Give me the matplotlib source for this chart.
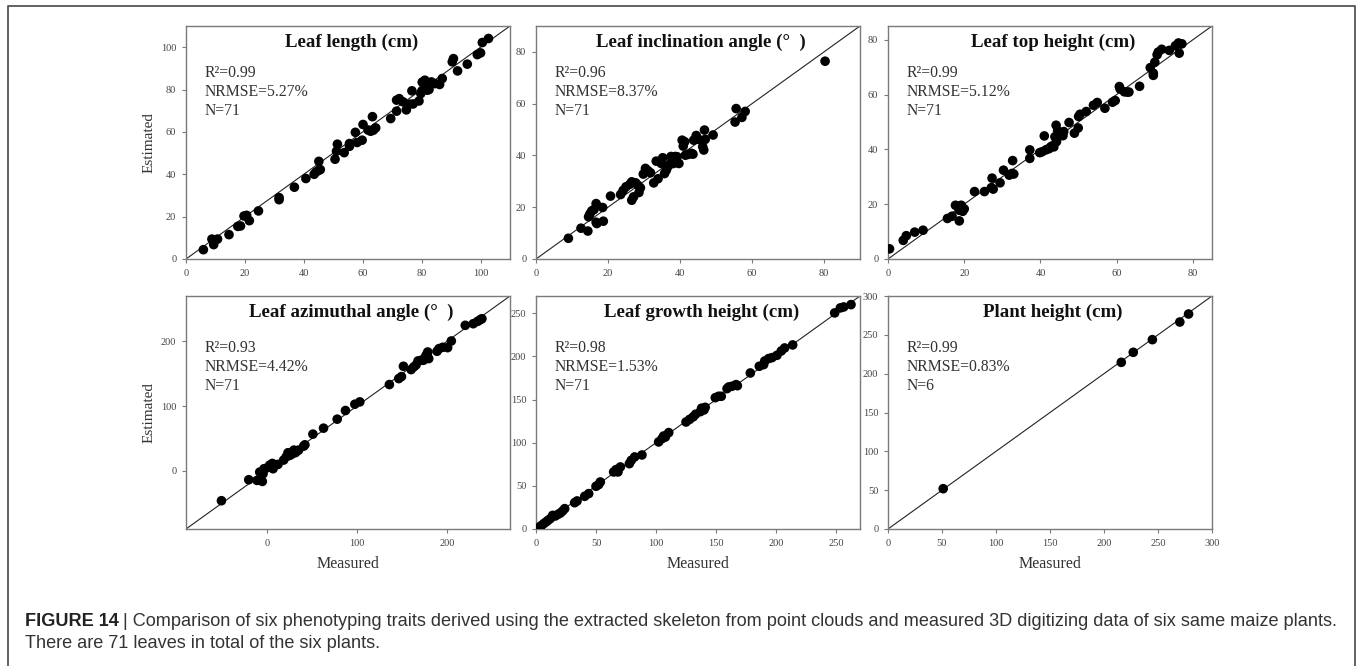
import matplotlib
matplotlib.use("Agg")
import matplotlib.pyplot as plt
from matplotlib.lines import Line2D

plt.rcParams["font.family"] = ["Liberation Serif", "DejaVu Serif"]

# ─── data (measured, estimated) ─────────────────────────────────────────
length_meas = [5.9, 8.8, 9.4, 10.7, 14.6, 17.6, 18.5, 19.7, 20.6, 21.5, 24.6, 31.6, 31.6,
               36.8, 40.7, 43.5, 44.2, 45.1, 45.1, 45.6, 50.6, 51.1, 51.4, 53.7, 55.5, 55.5,
               57.5, 58.1, 59.8, 60.1, 61.8, 62.7, 63.3, 63.6, 64.4, 69.5, 71.5, 71.5, 72.4,
               73.7, 74.8, 75.9, 76.7, 77.1, 79.1, 79.7, 80.1, 80.2, 80.7, 81.1, 81.9, 82.5,
               83.3, 84.5, 86.1, 87.0, 90.4, 90.8, 92.2, 95.5, 98.9, 100.0, 100.6, 102.7]
length_est = [4.4, 9.4, 6.8, 9.4, 11.5, 15.4, 15.6, 20.3, 20.6, 18.1, 22.7, 29.0, 28.0,
              33.9, 38.0, 40.0, 41.1, 46.1, 41.9, 42.2, 47.1, 50.9, 54.2, 50.2, 53.2, 54.5,
              59.8, 55.0, 56.1, 63.5, 60.9, 60.3, 67.2, 60.8, 61.9, 66.3, 69.8, 75.0, 75.7,
              74.2, 70.4, 73.1, 79.4, 73.2, 74.6, 78.1, 79.4, 83.5, 82.7, 84.4, 79.7, 80.0,
              83.6, 82.8, 82.4, 85.2, 93.1, 94.6, 88.8, 92.0, 96.5, 97.3, 102.2, 104.1]

incl_meas = [9.0, 12.5, 14.4, 14.6, 15.0, 15.5, 16.1, 16.7, 16.7, 16.9, 18.5, 18.7, 20.7,
             23.5, 24.2, 25.0, 26.1, 26.6, 26.6, 27.1, 27.7, 28.3, 28.6, 29.0, 29.8, 30.4,
             31.1, 31.8, 32.7, 33.4, 33.9, 34.8, 35.2, 35.7, 36.2, 36.6, 37.1, 37.5, 37.8,
             38.2, 38.7, 39.2, 39.7, 40.6, 40.9, 41.3, 41.5, 42.3, 43.2, 43.6, 43.8, 44.5,
             45.2, 46.3, 46.6, 46.8, 47.0, 49.2, 55.3, 55.6, 57.2, 58.1, 80.3]
incl_est = [8.0, 11.9, 10.8, 16.3, 17.5, 18.6, 19.1, 21.4, 14.2, 13.7, 19.9, 14.6, 24.3,
            24.9, 26.5, 27.9, 28.9, 29.8, 22.7, 24.0, 29.4, 28.5, 25.7, 27.5, 32.8, 35.0,
            34.1, 33.3, 29.4, 37.8, 31.0, 36.9, 39.1, 33.0, 34.3, 35.6, 36.5, 39.6, 37.8,
            36.9, 39.6, 39.5, 36.9, 45.9, 43.6, 45.3, 40.1, 40.4, 40.8, 40.5, 45.9, 47.7,
            46.2, 43.4, 42.1, 49.8, 46.2, 47.9, 52.9, 58.1, 54.7, 57.0, 76.4]

top_meas = [0.4, 4.0, 4.8, 7.0, 9.2, 15.6, 16.8, 17.7, 18.7, 18.7, 19.2, 19.6, 20.0, 22.7,
            25.3, 27.3, 27.1, 27.6, 29.4, 30.3, 31.8, 32.5, 32.7, 33.0, 37.2, 37.2, 39.8,
            40.4, 41.0, 41.4, 42.2, 42.8, 43.5, 43.8, 44.1, 44.2, 44.5, 45.0, 45.9, 46.1,
            47.5, 48.9, 49.9, 50.0, 50.4, 52.0, 53.9, 54.9, 56.9, 58.9, 59.6, 60.7, 60.9,
            62.0, 62.7, 63.2, 66.0, 68.8, 69.6, 69.6, 70.0, 70.6, 70.9, 71.8, 73.8, 75.4,
            76.2, 76.4, 77.1]
top_est = [3.7, 6.8, 8.5, 9.8, 10.5, 14.8, 15.6, 19.6, 13.9, 17.8, 19.6, 17.4, 18.3, 24.6,
           24.6, 29.5, 26.0, 25.5, 27.8, 32.4, 30.6, 31.2, 35.9, 31.0, 39.8, 36.7, 38.8,
           39.1, 44.9, 39.8, 40.2, 41.0, 40.9, 44.6, 48.8, 42.8, 46.8, 44.9, 45.0, 46.5,
           49.8, 45.9, 47.8, 52.0, 52.8, 53.8, 56.1, 57.1, 55.0, 57.2, 57.8, 62.9, 62.0,
           61.0, 60.9, 60.9, 63.0, 69.8, 67.8, 67.0, 71.8, 74.5, 75.5, 76.5, 76.1, 77.8,
           78.8, 75.1, 78.5]

azim_meas = [-50.6, -20.3, -11.1, -8.1, -5.2, -4.4, -3.3, -1.5, 3.0, 5.9, 6.7, 8.9, 12.2,
             18.5, 21.4, 23.3, 25.1, 27.0, 28.8, 29.9, 31.4, 33.3, 35.1, 40.7, 42.1, 51.0,
             62.8, 78.0, 87.2, 97.6, 103.1, 136.0, 146.4, 149.4, 151.6, 160.1, 163.0, 165.6,
             167.8, 171.2, 173.8, 176.0, 177.5, 178.6, 179.7, 188.9, 191.1, 195.2, 200.7,
             204.8, 220.3, 229.2, 234.0, 237.0, 238.8]
azim_est = [-46.3, -13.9, -14.9, -2.1, -16.5, -4.6, 3.1, 3.6, 8.7, 11.3, 3.1, 8.7, 9.8,
            16.5, 21.6, 27.8, 23.7, 25.2, 28.3, 31.9, 27.8, 30.3, 31.9, 38.0, 40.1, 56.6,
            65.8, 79.7, 93.1, 102.8, 106.4, 133.2, 142.4, 145.5, 161.4, 156.3, 160.4, 163.5,
            169.7, 170.7, 170.7, 176.4, 180.0, 183.5, 173.3, 184.6, 188.7, 190.7, 190.2,
            200.5, 224.7, 227.2, 230.8, 233.4, 234.9]

growth_meas = [2.8, 4.4, 6.4, 8.3, 10.0, 11.9, 13.9, 16.1, 18.3, 20.3, 22.2, 23.9, 32.2,
               34.2, 40.6, 43.9, 50.0, 52.2, 53.6, 64.7, 66.7, 68.3, 70.3, 77.8, 79.4, 82.2,
               88.3, 102.2, 105.0, 106.4, 107.8, 110.6, 125.0, 128.0, 131.0, 133.0, 137.0,
               138.0, 140.0, 141.0, 149.4, 152.2, 154.4, 159.2, 160.6, 163.3, 166.7, 167.8,
               178.6, 186.1, 189.7, 190.6, 193.9, 196.7, 200.8, 204.4, 207.2, 213.9, 248.9,
               253.6, 256.4, 262.5]
growth_est = [2.3, 3.9, 6.2, 8.1, 10.0, 12.0, 15.8, 15.1, 17.0, 18.5, 20.9, 23.6, 30.5,
              32.5, 37.9, 41.0, 49.5, 51.4, 54.5, 66.1, 68.8, 66.1, 71.9, 75.7, 79.6, 83.5,
              85.8, 100.9, 104.7, 107.8, 106.6, 111.7, 124.0, 127.0, 130.0, 133.0, 136.0,
              140.0, 138.0, 141.0, 152.2, 153.8, 153.8, 162.7, 164.6, 165.4, 167.3, 166.1,
              180.8, 188.6, 190.5, 194.7, 197.5, 198.6, 201.3, 206.3, 209.8, 213.3, 250.4,
              256.2, 257.3, 260.0]

plant_meas = [51.1, 216.0, 227.1, 244.8, 270.2, 278.3]
plant_est = [51.9, 214.6, 227.5, 243.8, 266.5, 276.8]

titles = ["Leaf length (cm)", "Leaf inclination angle (°  )", "Leaf top height (cm)",
          "Leaf azimuthal angle (°  )", "Leaf growth height (cm)", "Plant height (cm)"]
stats = [("0.99", "5.27%", "71"), ("0.96", "8.37%", "71"), ("0.99", "5.12%", "71"),
         ("0.93", "4.42%", "71"), ("0.98", "1.53%", "71"), ("0.99", "0.83%", "6")]
limits = [(0, 110), (0, 90), (0, 85), (-90, 270), (0, 270), (0, 300)]
ticks = [range(0, 101, 20), range(0, 81, 20), range(0, 81, 20),
         range(0, 201, 100), range(0, 251, 50), range(0, 301, 50)]
series = [(length_meas, length_est), (incl_meas, incl_est), (top_meas, top_est),
          (azim_meas, azim_est), (growth_meas, growth_est), (plant_meas, plant_est)]

caption_head = "FIGURE 14"
caption_l1 = ("| Comparison of six phenotyping traits derived using the extracted skeleton "
              "from point clouds and measured 3D digitizing data of six same maize plants.")
caption_l2 = "There are 71 leaves in total of the six plants."

# ─── layout (figure fractions) ──────────────────────────────────────────
W, H = 1357, 666
fig = plt.figure(figsize=(W / 100, H / 100), dpi=100)
lefts = [186, 536, 888]
tops = [26, 296]
aw, ah = 324, 233

spine_c = "#7a7a7a"
for i, (title, st, lim, tk, (xm, ye)) in enumerate(zip(titles, stats, limits, ticks, series)):
    r, c = divmod(i, 3)
    ax = fig.add_axes([lefts[c] / W, 1 - (tops[r] + ah) / H, aw / W, ah / H])
    ax.plot(lim, lim, color="#222222", lw=0.8, zorder=2)
    ax.scatter(xm, ye, s=48, color="black", edgecolors="none", zorder=3)
    ax.set_xlim(lim)
    ax.set_ylim(lim)
    ax.set_xticks(list(tk))
    ax.set_yticks(list(tk))
    ax.tick_params(direction="out", length=3, width=0.8, color=spine_c,
                   labelsize=7.5, labelcolor="#444444", pad=4)
    for sp in ax.spines.values():
        sp.set_color(spine_c)
        sp.set_linewidth(1.0)

    ax.text(0.51, 0.93, title, transform=ax.transAxes, ha="center", va="center",
            fontsize=13.6, fontweight="bold", color="#111111")
    y0 = 0.80 if r == 0 else 0.776
    for k, line in enumerate([f"R²={st[0]}", f"NRMSE={st[1]}", f"N={st[2]}"]):
        ax.text(0.058, y0 - k * 0.082, line, transform=ax.transAxes, ha="left",
                va="center", fontsize=11.3, color="#333333")

    if c == 0:
        ax.set_ylabel("Estimated", fontsize=11, color="#333333", labelpad=4)
    if r == 1:
        ax.set_xlabel("Measured", fontsize=11.5, color="#333333", labelpad=6)

# outer frame (open at the bottom, as in the page crop)
frame_c = "#555555"
fx0, fx1, fy1 = 8 / W, 1355 / W, 1 - 6 / H
fig.add_artist(Line2D([fx0, fx0, fx1, fx1], [-0.01, fy1, fy1, -0.01],
                      transform=fig.transFigure, color=frame_c, lw=1.3))

# caption
cap_font = ["Liberation Sans", "DejaVu Sans"]
t1 = fig.text(25 / W, 1 - 621 / H, caption_head, family=cap_font, fontweight="bold",
              fontsize=13.1, color="#222222", va="center", ha="left")
fig.canvas.draw()
bb = t1.get_window_extent()
fig.text((bb.x1 + 4) / W, 1 - 621 / H, caption_l1, family=cap_font, fontsize=13.1,
         color="#333333", va="center", ha="left")
fig.text(25 / W, 1 - 643 / H, caption_l2, family=cap_font, fontsize=13.1,
         color="#333333", va="center", ha="left")

fig.savefig("out.png", dpi=100)
